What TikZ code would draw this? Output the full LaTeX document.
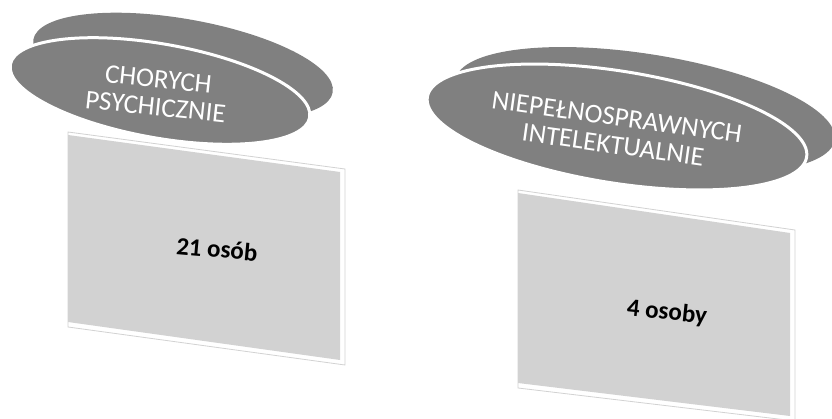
\documentclass[tikz,border=0pt]{standalone}
\usepackage{fontspec}
\setmainfont{Carlito}
\usetikzlibrary{shapes.geometric}

\begin{document}
\begin{tikzpicture}[x=1pt,y=-1pt,
    disc/.style={ellipse,fill=gray,inner sep=0pt},
    rim/.style={disc,draw=white,line width=3pt},
    slab/.style={fill=white,draw=gray!35,line width=0.8pt},
    face/.style={fill=gray!35},
    caption/.style={text=white,align=center,font=\fontsize{27}{28}\selectfont},
    count/.style={font=\bfseries\fontsize{25}{28}\selectfont}]
    \useasboundingbox[fill=white] (0,0) rectangle (832,419);
    % chorych psychicznie
    \node[disc,minimum width=304pt,minimum height=94pt,rotate=-10] (back1) at (183,66) {};
    \node[rim,minimum width=304pt,minimum height=94pt,rotate=-10] (disc1) at (160,91) {};
    \node[caption,rotate=-6] (name1) at (157,93) {CHORYCH\\PSYCHICZNIE};
    \draw[slab] (68,132) -- (345,169) -- (345,365) -- (68,327) -- cycle;
    \fill[face] (68,135) -- (340,172) -- (340,360) -- (68,322) -- cycle;
    \node[count,rotate=-5] (count1) at (217,249) {21 osób};
    % niepelnosprawnych intelektualnie
    \node[disc,minimum width=384pt,minimum height=112pt,rotate=-9] (back2) at (645,110) {};
    \node[rim,minimum width=384pt,minimum height=112pt,rotate=-9] (disc2) at (617,127) {};
    \node[caption,rotate=-8] (name2) at (615,131) {NIEPEŁNOSPRAWNYCH\\INTELEKTUALNIE};
    \draw[slab] (518,190) -- (795,230) -- (795,421) -- (518,388) -- cycle;
    \fill[face] (518,193) -- (790,233) -- (790,416) -- (518,383) -- cycle;
    \node[count,rotate=-6] (count2) at (667,313) {4 osoby};
\end{tikzpicture}
\end{document}
